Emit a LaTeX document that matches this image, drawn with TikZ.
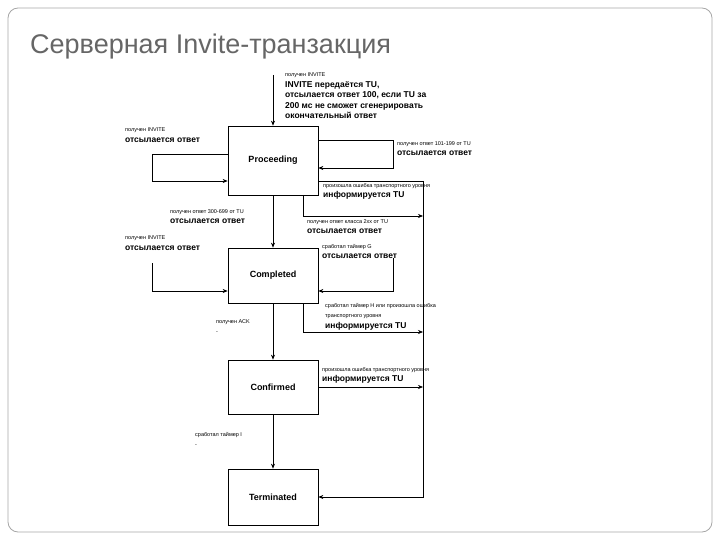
\documentclass[tikz,border=0pt]{standalone}
\usepackage{fontspec}
\setmainfont{Liberation Sans}
\usetikzlibrary{arrows.meta}
\newcommand\bbf{\bfseries\fontsize{8.5}{11}\selectfont}
\begin{document}
\begin{tikzpicture}[x=1pt,y=-1pt,
  st/.style={draw,line width=0.7pt,fill=white,minimum width=90pt,font=\bfseries\fontsize{9}{10}\selectfont,inner sep=0},
  ln/.style={line width=0.6pt},
  ar/.style={line width=0.6pt,-{Stealth[length=5pt,width=4pt]}},
  lb/.style={anchor=north west,inner sep=0,align=left,font=\fontsize{5.5}{10.5}\selectfont}]
\useasboundingbox (0,0) rectangle (720,540);
\draw[gray!70,line width=0.8pt,rounded corners=10pt] (8,8) rectangle (712,532);
\node[anchor=west,text=gray!80!black,font=\fontsize{27}{30}\selectfont,inner sep=0] (title) at (30,47) {Серверная Invite-транзакция};
\node[st,minimum height=69pt] (pro) at (273,160.5) {Proceeding};
\node[st,minimum height=55pt] (com) at (273,275.5) {Completed};
\node[st,minimum height=54pt] (con) at (273,387) {Confirmed};
\node[st,minimum height=56pt] (ter) at (273,497) {Terminated};
\coordinate (s) at (273,75);
\draw[ar] (s) -- (pro.north);
\draw[ar] (pro.south) -- (com.north);
\draw[ar] (com.south) -- (con.north);
\draw[ar] (con.south) -- (ter.north);
\draw[ar] (pro.west |- 0,154) -- (152,154) -- (152,181) -- (pro.west |- 0,181);
\draw[ar] (pro.east |- 0,140) -- (393,140) -- (393,168) -- (pro.east |- 0,168);
\draw[ln] (pro.east |- 0,181) -- (423,181);
\coordinate (rb) at (423,497);
\draw[ar] (423,181) -- (rb) -- (ter.east |- rb);
\draw[ar] (303,195) -- (303,216) -- (423,216);
\draw[ar] (152,263) -- (152,291) -- (com.west |- 0,291);
\draw[ar] (393,258) -- (393,291) -- (com.east |- 0,291);
\draw[ar] (303,303) -- (303,332) -- (423,332);
\draw[ar] (con.east) -- (423,387);
\node[lb] (l1) at (285,73) {получен INVITE\\{\bbf INVITE передаётся TU,}\\{\bbf отсылается ответ 100, если TU за}\\{\bbf 200 мс не сможет сгенерировать}\\{\bbf окончательный ответ}};
\node[lb] (l2) at (125,128) {получен INVITE\\{\bbf отсылается ответ}};
\node[lb] (l3) at (397,141) {получен ответ 101-199 от TU\\{\bbf отсылается ответ}};
\node[lb] (l4) at (323,183) {произошла ошибка транспортного уровня\\{\bbf информируется TU}};
\node[lb] (l5) at (170,209) {получен ответ 300-699 от TU\\{\bbf отсылается ответ}};
\node[lb] (l6) at (307,219) {получен ответ класса 2xx от TU\\{\bbf отсылается ответ}};
\node[lb] (l7) at (125,236) {получен INVITE\\{\bbf отсылается ответ}};
\node[lb] (l8) at (322,244) {сработал таймер G\\{\bbf отсылается ответ}};
\node[lb] (l9) at (325,303) {сработал таймер H или произошла ошибка\\транспортного уровня\\{\bbf информируется TU}};
\node[lb] (l10) at (216,319) {получен ACK\\-};
\node[lb] (l11) at (322,367) {произошла ошибка транспортного уровня\\{\bbf информируется TU}};
\node[lb] (l12) at (195,432) {сработал таймер I\\-};
\end{tikzpicture}
\end{document}
